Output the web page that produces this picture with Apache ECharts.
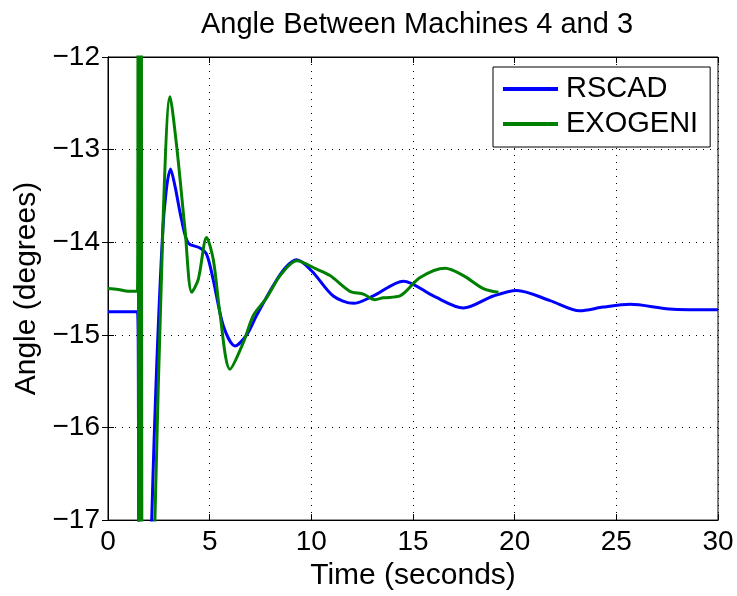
<!DOCTYPE html>
<html>
<head>
<meta charset="utf-8">
<script src="https://cdn.jsdelivr.net/npm/echarts@6/dist/echarts.min.js"></script>
<style>
  html, body { margin: 0; padding: 0; background: #fff; }
  #chart { width: 737px; height: 596px; }
</style>
</head>
<body>
<div id="chart"></div>
<script>
// data
var xTicks = [0, 5, 10, 15, 20, 25, 30];
var yTicks = [-17, -16, -15, -14, -13, -12];

var rscadTime = [0, 1.45, 1.5, 1.55, 2.05, 2.15, 2.7, 3.08, 3.3, 3.62, 3.95, 4.5, 4.85, 5.17, 5.67, 6.25, 6.82, 7.31, 8.12, 8.7, 9.28, 10.02, 11.08, 12.07, 13.05, 14.53, 16.0, 17.48, 18.95, 20.1, 21.74, 23.2, 24.35, 25.68, 27.6, 30];
var rscadAngle = [-14.75, -14.75, -16, -19, -19, -17, -13.85, -13.21, -13.4, -13.76, -14.01, -14.06, -14.13, -14.4, -14.9, -15.12, -15.0, -14.79, -14.47, -14.28, -14.19, -14.31, -14.58, -14.66, -14.58, -14.42, -14.58, -14.71, -14.58, -14.52, -14.63, -14.74, -14.7, -14.67, -14.72, -14.73];

var exoTime = [0, 0.5, 1.0, 1.45, 1.48, 1.52, 1.56, 1.6, 1.64, 1.68, 2.1, 2.25, 2.72, 3.05, 3.38, 3.79, 4.12, 4.44, 4.85, 5.18, 5.5, 6.0, 6.66, 7.15, 7.8, 8.5, 9.28, 10.26, 10.92, 11.9, 12.56, 13.13, 13.54, 14.36, 15.35, 16.58, 17.48, 18.46, 19.2];
var exoAngle = [-14.5, -14.51, -14.53, -14.53, -9, -20, -9, -20, -9, -20, -19, -17.5, -13.69, -12.43, -12.97, -13.87, -14.54, -14.4, -13.95, -14.19, -14.76, -15.37, -15.08, -14.79, -14.6, -14.35, -14.2, -14.29, -14.36, -14.53, -14.56, -14.62, -14.6, -14.58, -14.38, -14.28, -14.36, -14.5, -14.54];

function zip(a, b) {
  return a.map(function (v, i) { return [v, b[i]]; });
}
function minus(v) {
  return String(v).replace('-', '\u2212');
}

var font = 'Liberation Sans, Arial, sans-serif';
var chart = echarts.init(document.getElementById('chart'));
var gridLine = { show: true, lineStyle: { color: '#000', type: [1, 6], width: 1 } };

chart.setOption({
  animation: false,
  backgroundColor: '#fff',
  title: {
    text: 'Angle Between Machines 4 and 3',
    left: 412,
    textAlign: 'center',
    top: 5,
    textStyle: { fontFamily: font, fontSize: 29, fontWeight: 'normal', color: '#000' }
  },
  legend: {
    data: ['RSCAD', 'EXOGENI'],
    orient: 'vertical',
    left: 493,
    top: 67,
    padding: [7, 12, 8, 10],
    itemGap: 5,
    itemWidth: 55,
    itemHeight: 4,
    icon: 'rect',
    borderColor: '#000',
    borderWidth: 1,
    borderRadius: 0,
    backgroundColor: '#fff',
    textStyle: { fontFamily: font, fontSize: 29, lineHeight: 30, color: '#000', padding: [0, 0, 0, 3] }
  },
  grid: { left: 108, right: 19, top: 57, bottom: 63, show: true, borderColor: '#000', borderWidth: 1 },
  xAxis: [{
    type: 'value', min: 0, max: 30, interval: 5,
    name: 'Time (seconds)', nameLocation: 'middle', nameGap: 37,
    nameTextStyle: { fontFamily: font, fontSize: 30, color: '#000' },
    axisLine: { lineStyle: { color: '#000' } },
    axisTick: { inside: true, length: 6, lineStyle: { color: '#000' } },
    axisLabel: { fontFamily: font, fontSize: 28, color: '#000', margin: 8 },
    splitLine: gridLine
  }, {
    type: 'value', min: 0, max: 30, interval: 5, position: 'top',
    axisLine: { lineStyle: { color: '#000' } },
    axisTick: { inside: true, length: 6, lineStyle: { color: '#000' } },
    axisLabel: { show: false }, splitLine: { show: false }
  }],
  yAxis: [{
    type: 'value', min: -17, max: -12, interval: 1,
    name: 'Angle (degrees)', nameLocation: 'middle', nameGap: 65,
    nameTextStyle: { fontFamily: font, fontSize: 30, color: '#000' },
    axisLine: { show: true, lineStyle: { color: '#000' } },
    axisTick: { show: true, inside: true, length: 6, lineStyle: { color: '#000' } },
    axisLabel: { fontFamily: font, fontSize: 28, color: '#000', margin: 8, formatter: minus },
    splitLine: gridLine
  }, {
    type: 'value', min: -17, max: -12, interval: 1, position: 'right',
    axisLine: { show: true, lineStyle: { color: '#000' } },
    axisTick: { show: true, inside: true, length: 6, lineStyle: { color: '#000' } },
    axisLabel: { show: false }, splitLine: { show: false }
  }],
  series: [{
    name: 'RSCAD', type: 'line', symbol: 'none', smooth: 0.3,
    data: zip(rscadTime, rscadAngle),
    lineStyle: { color: '#0000ff', width: 3 },
    itemStyle: { color: '#0000ff' }
  }, {
    name: 'EXOGENI', type: 'line', symbol: 'none', smooth: 0.3,
    data: zip(exoTime, exoAngle),
    lineStyle: { color: '#008000', width: 3 },
    itemStyle: { color: '#008000' }
  }]
});
</script>
</body>
</html>
